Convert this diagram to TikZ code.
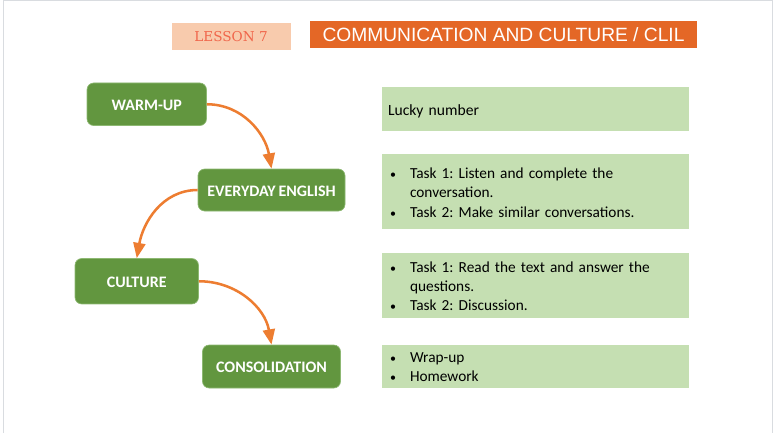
\documentclass[tikz,border=0pt]{standalone}
\usepackage{fontspec}
\setmainfont[WordSpace=0.75]{Carlito}
\newfontfamily\titlefont{Liberation Sans}
\newfontfamily\lessonfont{DejaVu Serif}
\usetikzlibrary{arrows.meta}
\frenchspacing
\definecolor{stepgreen}{HTML}{62963F}
\definecolor{stepedge}{HTML}{8DB872}
\definecolor{panelgreen}{HTML}{C5DFB2}
\definecolor{arroworange}{HTML}{ED7D31}
\definecolor{titleorange}{HTML}{E46726}
\definecolor{lessonbg}{HTML}{F8CBAD}
\definecolor{lessonfg}{HTML}{F0654A}
\definecolor{framegray}{HTML}{D9DCE0}
\newcommand{\shifted}[2]{\raisebox{-#1}[\height][\depth]{#2}}
\newcommand{\bulletrows}[1]{\setlength{\tabcolsep}{0pt}\renewcommand{\arraystretch}{1}\begin{tabular}{@{}p{15pt}l@{}}#1\end{tabular}}
\newcommand{\dotmark}{{\fontsize{9}{9}\selectfont •}}
\tikzset{
  stepbox/.style={draw=stepedge,line width=0.5pt,fill=stepgreen,rounded corners=5pt,text=white,font=\fontsize{12}{14}\selectfont\bfseries,inner sep=0pt},
  panel/.style={fill=panelgreen,minimum width=230.6pt,text width=221.6pt,inner xsep=4.5pt,inner ysep=0pt,align=left,text=black,font=\fontsize{11.5}{14.3}\selectfont},
  flow/.style={draw=arroworange,line width=1.9pt,-{Triangle[length=11.5pt,width=9pt]}},
}
\begin{document}
\begin{tikzpicture}[x=0.75pt,y=-0.75pt]
\useasboundingbox (0,0) rectangle (778,433);
\draw[framegray,line width=1pt] (3.5,433) -- (3.5,0.5) -- (772.5,0.5) -- (772.5,433);
\node[fill=lessonbg,minimum width=89.25pt,minimum height=20.6pt,inner sep=0pt,text=lessonfg,font=\lessonfont\fontsize{10.2}{12}\selectfont] (lesson) at (231,36.25) {LESSON 7};
\node[fill=titleorange,minimum width=290.25pt,minimum height=20.6pt,inner sep=0pt,text=white,font=\titlefont\fontsize{14.4}{16}\selectfont] (title) at (503.5,34.25) {COMMUNICATION AND CULTURE / CLIL};
\node[stepbox,minimum width=89.6pt,minimum height=31.9pt] (warm) at (146.75,104.25) {\shifted{0.7pt}{WARM-UP}};
\node[stepbox,minimum width=110.25pt,minimum height=31.5pt] (every) at (271.5,190) {\shifted{0.7pt}{EVERYDAY ENGLISH}};
\node[stepbox,minimum width=92.6pt,minimum height=34.1pt] (culture) at (136.75,281.25) {\shifted{0.7pt}{CULTURE}};
\node[stepbox,minimum width=103.5pt,minimum height=32.25pt] (consol) at (271.5,366.5) {\shifted{0.7pt}{CONSOLIDATION}};
\node[panel,minimum height=33pt,font=\fontsize{11.7}{14.3}\selectfont] (p1) at (535.75,109) {\shifted{2pt}{Lucky number}};
\node[panel,minimum height=55.9pt] (p2) at (535.75,191.75) {\hspace*{1.5pt}\shifted{1.8pt}{\bulletrows{\dotmark&Task 1: Listen and complete the\\&conversation.\\\dotmark&Task 2: Make similar conversations.}}};
\node[panel,minimum height=48.75pt] (p3) at (535.75,285) {\hspace*{1.5pt}\shifted{2pt}{\bulletrows{\dotmark&Task 1: Read the text and answer the\\&questions.\\\dotmark&Task 2: Discussion.}}};
\node[panel,minimum height=32.25pt] (p4) at (535.75,366) {\hspace*{1.5pt}\shifted{1.6pt}{\bulletrows{\dotmark&Wrap-up\\\dotmark&Homework}}};
\draw[flow] (warm.east) to[out=0,in=100,looseness=1] (every.north);
\draw[flow] (every.west) to[out=180,in=80,looseness=1] (culture.north);
\draw[flow] (culture.east) to[out=0,in=100,looseness=1] (consol.north);
\end{tikzpicture}
\end{document}
